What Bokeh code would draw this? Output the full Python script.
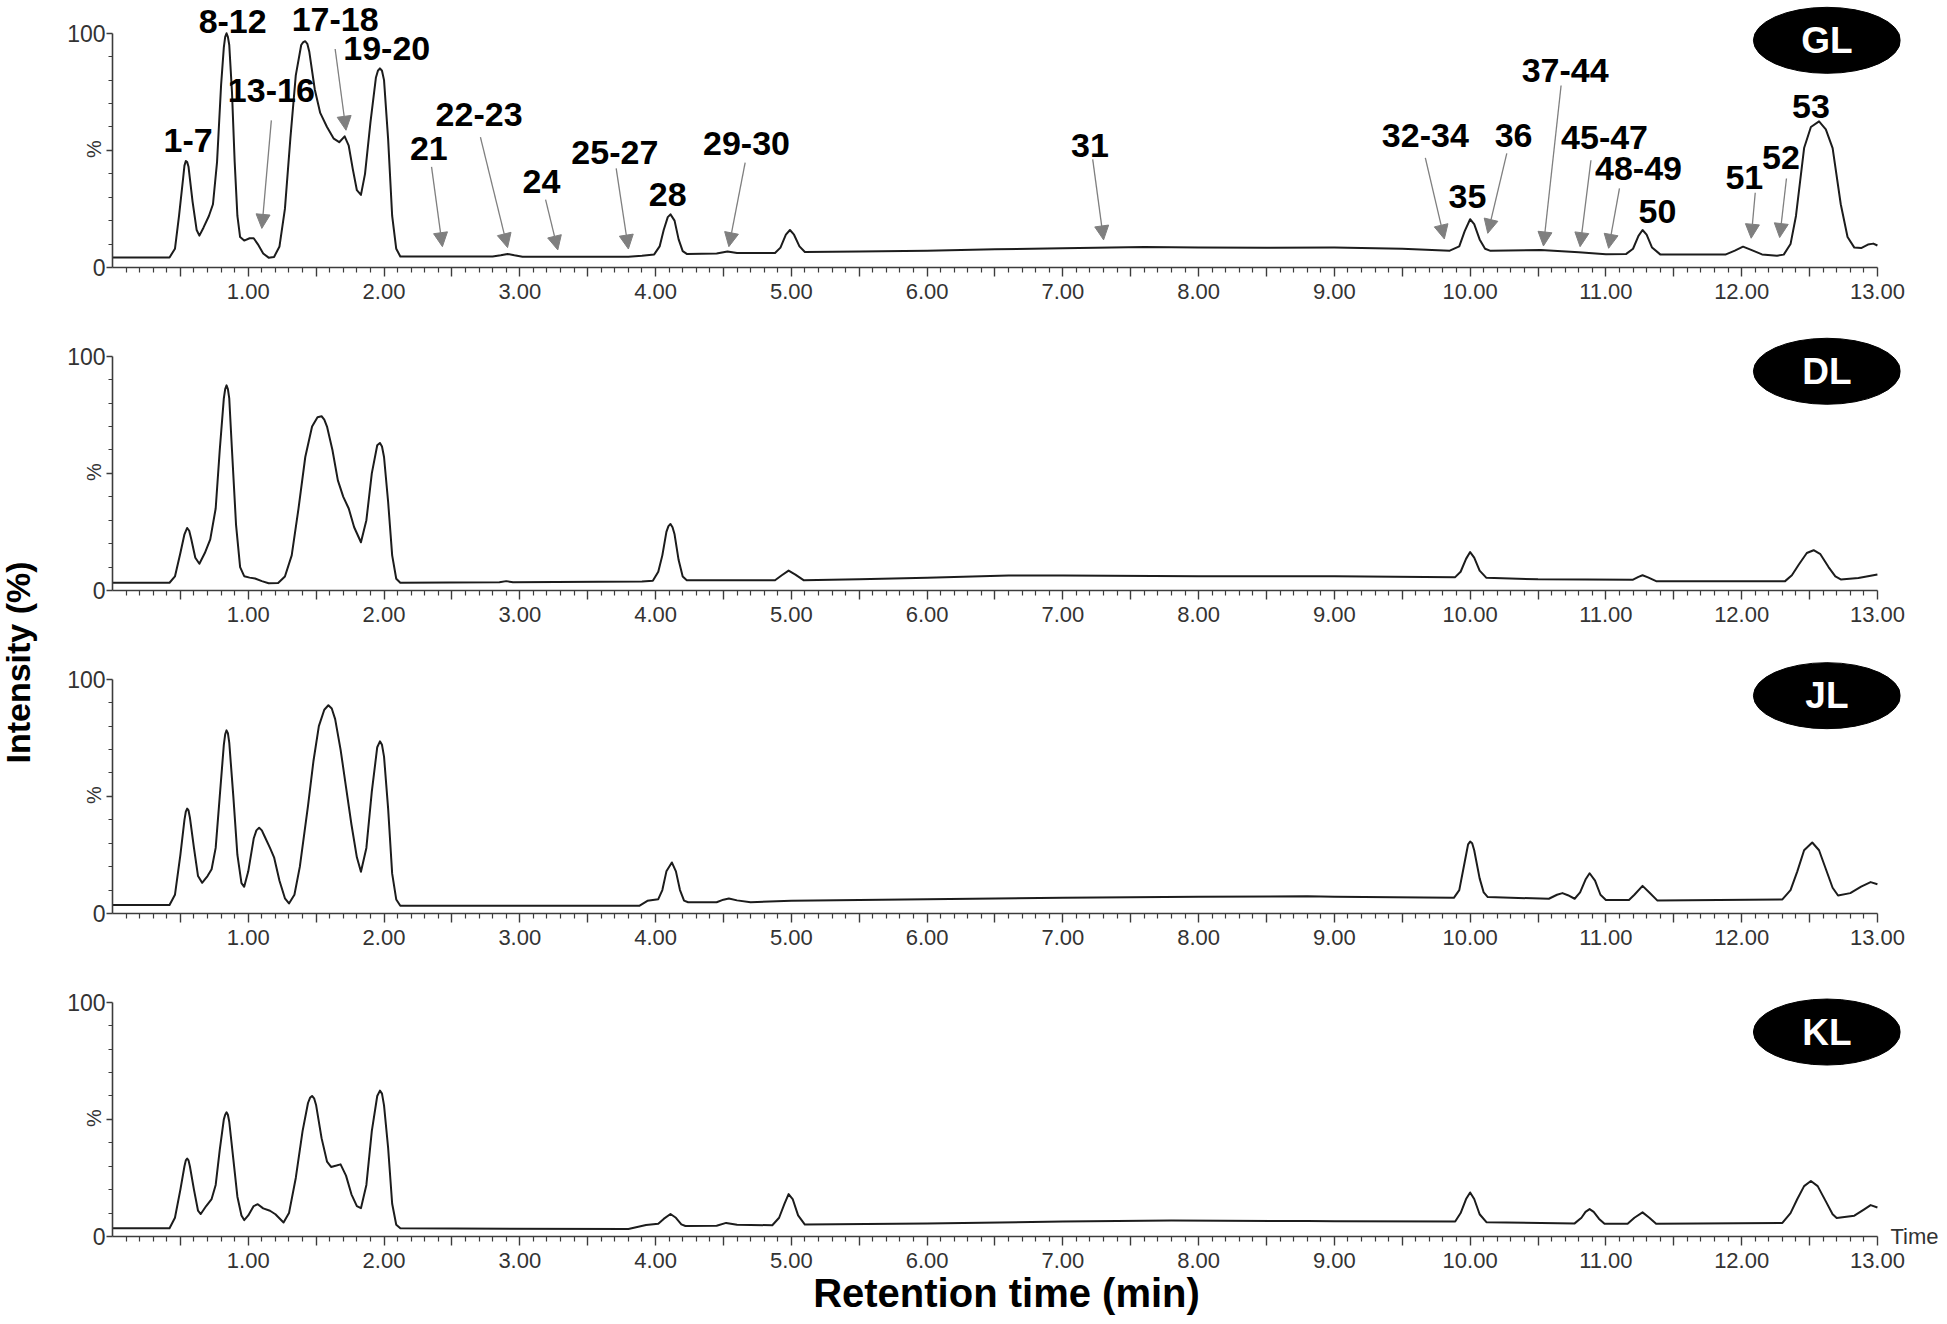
from math import pi

from bokeh.core.properties import value
from bokeh.embed import file_html
from bokeh.layouts import column, row
from bokeh.models import (Arrow, ColumnDataSource, FixedTicker, Label, LinearAxis, NormalHead,
                          Range1d)
from bokeh.plotting import figure
from bokeh.resources import INLINE

# ---------------------------------------------------------------- data
samples = ["GL", "DL", "JL", "KL"]

# (retention time in min, relative intensity in %)
gl_points = [
    (0.00, 4.3), (0.42, 4.3), (0.46, 8.0), (0.49, 22.0), (0.52, 38.0), (0.53, 43.5),
    (0.54, 45.5), (0.55, 45.0), (0.56, 43.0), (0.59, 28.0), (0.62, 16.0), (0.64, 13.6),
    (0.67, 17.0), (0.71, 22.0), (0.74, 27.0), (0.77, 45.0), (0.80, 78.0), (0.82, 94.0),
    (0.83, 98.5), (0.84, 100.0), (0.85, 98.5), (0.86, 95.0), (0.88, 75.0), (0.90, 45.0),
    (0.92, 22.0), (0.94, 13.0), (0.97, 11.5), (1.01, 12.5), (1.04, 12.5), (1.07, 10.0),
    (1.11, 6.0), (1.15, 4.2), (1.19, 4.5), (1.23, 9.0), (1.27, 25.0), (1.31, 55.0),
    (1.35, 82.0), (1.39, 95.0), (1.405, 96.2), (1.42, 96.6), (1.435, 95.5), (1.45, 92.0),
    (1.49, 76.0), (1.53, 66.0), (1.58, 60.0), (1.63, 55.0), (1.67, 53.5), (1.71, 56.0),
    (1.74, 52.0), (1.77, 42.0), (1.80, 33.0), (1.83, 31.0), (1.86, 40.0), (1.90, 62.0),
    (1.94, 81.0), (1.955, 84.0), (1.97, 85.0), (1.985, 84.0), (2.00, 80.0), (2.03, 55.0),
    (2.06, 22.0), (2.09, 8.0), (2.12, 4.7), (2.80, 4.7), (2.86, 5.2), (2.91, 5.8),
    (2.96, 5.2), (3.02, 4.6), (3.80, 4.6), (3.90, 5.0), (3.99, 5.6), (4.03, 9.0),
    (4.06, 16.0), (4.09, 21.5), (4.11, 22.7), (4.14, 20.0), (4.17, 12.0), (4.20, 7.0),
    (4.23, 5.8), (4.45, 6.0), (4.53, 6.8), (4.60, 6.2), (4.88, 6.2), (4.92, 8.5),
    (4.96, 14.0), (4.99, 16.0), (5.02, 14.0), (5.06, 9.0), (5.10, 6.6), (5.50, 6.8),
    (6.00, 7.2), (6.50, 7.8), (7.00, 8.2), (7.60, 8.8), (8.00, 8.5), (8.50, 8.4),
    (9.00, 8.5), (9.50, 8.0), (9.85, 7.2), (9.92, 9.0), (9.96, 15.5), (10.00, 20.6),
    (10.03, 18.5), (10.07, 12.0), (10.11, 8.0), (10.15, 7.1), (10.52, 7.5), (10.80, 6.5),
    (11.00, 5.7), (11.15, 5.8), (11.20, 8.0), (11.24, 13.5), (11.27, 16.0), (11.30, 14.0),
    (11.34, 8.5), (11.40, 5.6), (11.88, 5.5), (11.95, 7.2), (12.01, 8.9), (12.07, 7.5),
    (12.15, 5.6), (12.26, 5.0), (12.31, 5.5), (12.36, 10.0), (12.40, 22.0), (12.46, 51.0),
    (12.51, 60.0), (12.57, 62.4), (12.62, 59.0), (12.67, 51.0), (12.73, 27.0), (12.78, 13.0),
    (12.83, 8.5), (12.88, 8.3), (12.93, 9.8), (12.97, 10.2), (13.00, 9.4),
]

dl_points = [
    (0.00, 3.3), (0.42, 3.3), (0.46, 6.0), (0.50, 16.0), (0.53, 24.0), (0.55, 26.7),
    (0.565, 25.5), (0.58, 22.0), (0.61, 14.0), (0.64, 11.4), (0.68, 16.0), (0.72, 21.8),
    (0.76, 35.0), (0.79, 60.0), (0.82, 82.0), (0.83, 86.0), (0.84, 87.6), (0.85, 86.0),
    (0.86, 82.0), (0.88, 60.0), (0.91, 28.0), (0.94, 10.0), (0.97, 6.1), (1.01, 5.5),
    (1.05, 5.1), (1.10, 4.0), (1.15, 3.1), (1.22, 3.2), (1.27, 6.0), (1.32, 15.0),
    (1.37, 35.0), (1.42, 57.0), (1.47, 70.0), (1.51, 74.0), (1.54, 74.4), (1.56, 73.0),
    (1.58, 70.0), (1.62, 60.0), (1.66, 47.0), (1.70, 40.0), (1.74, 35.0), (1.78, 27.0),
    (1.83, 20.6), (1.87, 30.0), (1.91, 50.0), (1.95, 62.0), (1.97, 63.0), (1.985, 61.5),
    (2.00, 57.0), (2.03, 38.0), (2.06, 15.0), (2.09, 5.0), (2.12, 3.3), (2.85, 3.5),
    (2.90, 4.0), (2.95, 3.5), (3.90, 3.8), (3.98, 4.2), (4.02, 8.0), (4.05, 15.0),
    (4.08, 25.0), (4.095, 27.5), (4.11, 28.4), (4.125, 27.0), (4.14, 24.0), (4.17, 13.0),
    (4.20, 6.0), (4.23, 4.4), (4.88, 4.4), (4.93, 6.5), (4.98, 8.5), (5.03, 6.8),
    (5.09, 4.4), (5.50, 4.8), (6.00, 5.4), (6.60, 6.4), (7.00, 6.4), (8.00, 6.1),
    (9.00, 6.1), (9.89, 5.7), (9.93, 8.0), (9.97, 13.5), (10.00, 16.4), (10.03, 14.0),
    (10.07, 8.5), (10.12, 5.4), (10.50, 4.8), (11.20, 4.6), (11.24, 5.8), (11.27, 6.5),
    (11.31, 5.6), (11.37, 4.0), (12.32, 4.0), (12.37, 6.5), (12.42, 11.0), (12.48, 16.0),
    (12.53, 17.2), (12.58, 15.5), (12.64, 10.0), (12.69, 6.0), (12.73, 4.7), (12.86, 5.3),
    (13.00, 6.8),
]

jl_points = [
    (0.00, 3.6), (0.42, 3.6), (0.46, 8.0), (0.50, 25.0), (0.53, 40.0), (0.54, 43.5),
    (0.55, 44.8), (0.56, 44.0), (0.57, 41.0), (0.60, 28.0), (0.63, 16.0), (0.66, 13.1),
    (0.70, 16.0), (0.73, 18.9), (0.76, 28.0), (0.79, 50.0), (0.82, 72.0), (0.83, 76.5),
    (0.84, 78.2), (0.85, 77.0), (0.86, 73.0), (0.89, 50.0), (0.92, 25.0), (0.95, 13.0),
    (0.97, 11.4), (1.00, 18.0), (1.04, 32.0), (1.06, 35.5), (1.08, 36.6), (1.10, 35.5),
    (1.12, 33.0), (1.16, 28.0), (1.19, 24.0), (1.23, 14.0), (1.27, 6.5), (1.30, 4.3),
    (1.34, 8.0), (1.38, 20.0), (1.44, 46.0), (1.48, 65.0), (1.52, 80.0), (1.56, 87.0),
    (1.59, 88.9), (1.615, 87.5), (1.64, 83.0), (1.68, 70.0), (1.72, 54.0), (1.76, 38.0),
    (1.80, 24.0), (1.83, 17.8), (1.87, 28.0), (1.91, 52.0), (1.95, 71.0), (1.97, 73.5),
    (1.985, 72.0), (2.00, 67.0), (2.03, 45.0), (2.06, 17.0), (2.09, 6.0), (2.12, 3.3),
    (3.88, 3.3), (3.94, 5.4), (4.02, 6.1), (4.05, 10.0), (4.08, 18.0), (4.12, 21.8),
    (4.15, 18.0), (4.18, 10.0), (4.21, 5.5), (4.24, 4.8), (4.45, 4.8), (4.50, 5.9),
    (4.54, 6.4), (4.60, 5.6), (4.70, 4.8), (5.00, 5.4), (6.00, 6.1), (7.00, 6.7),
    (8.00, 7.1), (8.80, 7.4), (9.00, 7.1), (9.88, 6.7), (9.92, 10.0), (9.96, 22.0),
    (9.985, 29.5), (10.00, 30.7), (10.015, 30.0), (10.03, 27.0), (10.07, 15.0), (10.10, 9.0),
    (10.13, 7.0), (10.58, 6.3), (10.64, 8.0), (10.68, 8.7), (10.72, 7.8), (10.77, 6.3),
    (10.81, 9.0), (10.85, 14.5), (10.88, 17.2), (10.92, 14.0), (10.96, 8.0), (11.00, 5.8),
    (11.17, 5.8), (11.21, 8.0), (11.27, 11.8), (11.32, 9.0), (11.38, 5.5), (12.30, 6.0),
    (12.36, 10.0), (12.41, 18.0), (12.46, 27.0), (12.52, 30.3), (12.57, 27.0), (12.62, 19.0),
    (12.67, 11.0), (12.71, 7.7), (12.80, 8.7), (12.88, 11.5), (12.95, 13.4), (13.00, 12.5),
]

kl_points = [
    (0.00, 3.5), (0.42, 3.5), (0.46, 8.0), (0.50, 20.0), (0.53, 30.0), (0.54, 32.5),
    (0.55, 33.3), (0.56, 32.5), (0.57, 30.0), (0.60, 20.0), (0.63, 11.0), (0.65, 9.6),
    (0.69, 13.0), (0.73, 16.0), (0.76, 22.0), (0.79, 37.0), (0.82, 50.0), (0.83, 52.0),
    (0.84, 53.0), (0.85, 52.0), (0.86, 49.0), (0.89, 33.0), (0.92, 17.0), (0.95, 9.0),
    (0.97, 7.0), (1.00, 9.0), (1.04, 13.0), (1.07, 13.8), (1.11, 12.0), (1.16, 11.0),
    (1.20, 9.5), (1.26, 6.0), (1.30, 10.0), (1.35, 25.0), (1.40, 45.0), (1.44, 57.0),
    (1.455, 59.2), (1.47, 60.0), (1.485, 59.0), (1.50, 56.0), (1.54, 42.0), (1.58, 32.0),
    (1.61, 29.7), (1.65, 30.3), (1.68, 30.8), (1.72, 26.0), (1.76, 18.0), (1.80, 13.0),
    (1.83, 12.1), (1.87, 22.0), (1.91, 45.0), (1.95, 60.0), (1.97, 62.3), (1.985, 61.0),
    (2.00, 56.0), (2.03, 38.0), (2.06, 14.0), (2.09, 5.0), (2.12, 3.5), (3.80, 3.2),
    (3.93, 4.9), (4.02, 5.4), (4.06, 7.5), (4.11, 9.6), (4.15, 8.0), (4.19, 5.2),
    (4.22, 4.5), (4.45, 4.6), (4.52, 5.8), (4.60, 5.0), (4.86, 4.8), (4.91, 8.0),
    (4.95, 14.0), (4.98, 18.1), (5.01, 16.0), (5.05, 9.0), (5.10, 5.1), (6.00, 5.6),
    (7.00, 6.4), (7.80, 6.8), (8.80, 6.6), (9.00, 6.5), (9.89, 6.4), (9.93, 10.0),
    (9.97, 16.0), (10.00, 18.8), (10.03, 16.0), (10.07, 9.5), (10.12, 6.1), (10.77, 5.6),
    (10.82, 8.0), (10.85, 10.5), (10.88, 11.7), (10.91, 10.5), (10.95, 7.5), (10.99, 5.4),
    (11.16, 5.4), (11.21, 8.0), (11.27, 10.3), (11.32, 8.0), (11.37, 5.4), (12.30, 5.8),
    (12.36, 10.0), (12.41, 16.0), (12.46, 21.5), (12.51, 23.7), (12.56, 21.5), (12.62, 15.0),
    (12.67, 9.5), (12.70, 7.9), (12.83, 8.9), (12.90, 11.5), (12.95, 13.4), (13.00, 12.4),
]

series_points = [gl_points, dl_points, jl_points, kl_points]

# peak numbering shown on the first trace
peak_labels = ["1-7", "8-12", "13-16", "17-18", "19-20", "21", "22-23", "24", "25-27", "28",
               "29-30", "31", "32-34", "35", "36", "37-44", "45-47", "48-49", "50", "51",
               "52", "53"]

time_tick_labels = ["1.00", "2.00", "3.00", "4.00", "5.00", "6.00", "7.00", "8.00", "9.00",
                    "10.00", "11.00", "12.00", "13.00"]

# ---------------------------------------------------------------- layout
peak_label_x = [0.557, 0.885, 1.17, 1.64, 2.02, 2.33, 2.70, 3.16, 3.70, 4.09, 4.67, 7.20,
                9.67, 9.98, 10.32, 10.70, 10.99, 11.24, 11.38, 12.02, 12.29, 12.51]
peak_label_y = [54.3, 105.0, 75.6, 105.8, 93.3, 50.8, 65.2, 36.6, 49.0, 31.0, 52.9, 52.2,
                56.5, 30.2, 56.2, 84.1, 55.3, 42.3, 23.8, 38.3, 46.8, 68.9]

pointer_x0 = [1.17, 1.64, 2.35, 2.71, 3.19, 3.71, 4.66, 7.22, 9.67, 10.27, 10.67, 10.89, 11.10, 12.10, 12.33]
pointer_y0 = [62.8, 93.3, 43.0, 55.7, 29.0, 42.3, 44.8, 46.2, 46.8, 48.7, 77.7, 45.8, 33.8, 31.9, 38.0]
pointer_x1 = [1.10, 1.72, 2.43, 2.91, 3.28, 3.80, 4.54, 7.30, 9.81, 10.13, 10.54, 10.81, 11.02, 12.07, 12.28]
pointer_y1 = [16.7, 58.6, 8.9, 8.5, 7.5, 7.9, 8.9, 11.8, 12.2, 14.6, 9.2, 8.9, 8.2, 12.5, 12.8]

badge_x = 12.628
badge_y = [97.0, 93.6, 93.0, 87.3]

FONT = "Liberation Sans"
AXIS_COLOR = "#3c3c3c"
TICK_TEXT = "#333333"
ARROW_COLOR = "#7f7f7f"

PX_PER_MIN = 135.77
X_MAX = 13.17
FRAME_W = round(X_MAX * PX_PER_MIN)
FRAME_H = 267
Y_MAX = 114
SIDE_W = 38
LEFT_B = 74
RIGHT_B = 1947 - SIDE_W - LEFT_B - FRAME_W

major_x = [0.5 * k for k in range(1, 27)]
minor_x = [round(0.1 * k, 1) for k in range(1, 131) if k % 5 != 0]
x_overrides = {t: "" for t in major_x}
for k, lab in enumerate(time_tick_labels, start=1):
    x_overrides[float(k)] = lab


def style_ticks(ax):
    ax.axis_line_color = AXIS_COLOR
    ax.axis_line_width = 1.6
    ax.major_tick_line_color = AXIS_COLOR
    ax.minor_tick_line_color = AXIS_COLOR
    ax.major_tick_line_width = 1.4
    ax.minor_tick_line_width = 1.2
    ax.major_tick_in = 0
    ax.minor_tick_in = 0
    ax.major_label_text_font = FONT
    ax.major_label_text_color = TICK_TEXT


def make_panel(idx):
    last = idx == len(samples) - 1
    p = figure(frame_width=FRAME_W, frame_height=FRAME_H,
               x_range=Range1d(0, X_MAX), y_range=Range1d(0, Y_MAX),
               min_border_left=LEFT_B, min_border_right=RIGHT_B, min_border_top=0,
               min_border_bottom=85 if last else 56,
               toolbar_location=None, output_backend="svg", title=None)
    p.outline_line_color = None
    p.grid.visible = False
    p.background_fill_color = "white"
    p.border_fill_color = "white"

    # retention time axis
    xa = p.xaxis[0]
    style_ticks(xa)
    xa.ticker = FixedTicker(ticks=major_x, minor_ticks=minor_x)
    xa.major_label_overrides = x_overrides
    xa.bounds = (0, 13)
    xa.major_tick_out = 9
    xa.minor_tick_out = 5
    xa.major_label_standoff = 7
    xa.major_label_text_font_size = "22px"
    if last:
        xa.axis_label = "Retention time (min)"
        xa.axis_label_text_font = FONT
        xa.axis_label_text_font_style = "bold"
        xa.axis_label_text_font_size = "40px"
        xa.axis_label_text_color = "black"
        xa.axis_label_standoff = 0

    # intensity axis; the unit sign sits at 50 %, tucked in beside the ticks
    # (em/en spaces after it shift the centred label down from the frame middle)
    ya = p.yaxis[0]
    style_ticks(ya)
    ya.ticker = FixedTicker(ticks=[0, 50, 100], minor_ticks=[10, 20, 30, 40, 60, 70, 80, 90])
    ya.major_label_overrides = {0: "0", 50: "", 100: "100"}
    ya.bounds = (0, 100)
    ya.major_tick_out = 6
    ya.minor_tick_out = 4
    ya.major_label_standoff = 1
    ya.major_label_text_font_size = "23px"
    ya.axis_label = "%\u2003\u2002"
    ya.axis_label_text_font = FONT
    ya.axis_label_text_font_style = "normal"
    ya.axis_label_text_font_size = "20px"
    ya.axis_label_text_color = TICK_TEXT
    ya.axis_label_standoff = -41

    # chromatogram trace
    tt = [t for t, _ in series_points[idx]]
    yy = [y for _, y in series_points[idx]]
    p.line(tt, yy, line_color="#1c1c1c", line_width=2.0, line_join="round")

    # sample badge
    p.ellipse(x=[badge_x], y=[badge_y[idx]], width=147, height=66, width_units="screen",
              height_units="screen", fill_color="black", line_color="black")
    p.text(x=[badge_x], y=[badge_y[idx]], text=[samples[idx]], text_color="white",
           text_font=value(FONT), text_font_style="bold", text_font_size="37px",
           text_align="center", text_baseline="middle")

    if last:
        time_axis = LinearAxis(ticker=FixedTicker(ticks=[0]), major_label_overrides={0: "Time"},
                               axis_line_color=None, major_tick_line_color=None,
                               minor_tick_line_color=None, major_tick_in=0, major_tick_out=0,
                               minor_tick_in=0, minor_tick_out=0, major_label_standoff=-10,
                               major_label_text_font=FONT, major_label_text_color=TICK_TEXT,
                               major_label_text_font_size="22px")
        p.add_layout(time_axis, "right")
    return p


panels = [make_panel(i) for i in range(len(samples))]

# peak annotations on the first trace
top = panels[0]
for lab, lx, ly in zip(peak_labels, peak_label_x, peak_label_y):
    top.add_layout(Label(x=lx, y=ly, text=lab, text_align="center", text_baseline="middle",
                         text_font=FONT, text_font_style="bold", text_font_size="34px",
                         text_color="black"))

pointers = ColumnDataSource(dict(x0=pointer_x0, y0=pointer_y0, x1=pointer_x1, y1=pointer_y1))
top.add_layout(Arrow(source=pointers, x_start="x0", y_start="y0", x_end="x1", y_end="y1",
                     line_color=ARROW_COLOR, line_width=1.3,
                     end=NormalHead(size=14, fill_color=ARROW_COLOR, line_color=ARROW_COLOR,
                                    line_width=1)))

# shared intensity title on the left
side = figure(width=SIDE_W, height=1323, x_range=Range1d(0, SIDE_W), y_range=Range1d(0, 1323),
              min_border=0, toolbar_location=None, output_backend="svg", title=None,
              x_axis_type=None, y_axis_type=None)
side.outline_line_color = None
side.grid.visible = False
side.text(x=[17], y=[661], text=["Intensity (%)"], angle=pi / 2, text_align="center",
          text_baseline="middle", text_font=value(FONT), text_font_style="bold",
          text_font_size="34px", text_color="black")

layout = row(side, column(*panels, spacing=0), spacing=0)

open("out.html", "w").write(file_html(layout, INLINE))
